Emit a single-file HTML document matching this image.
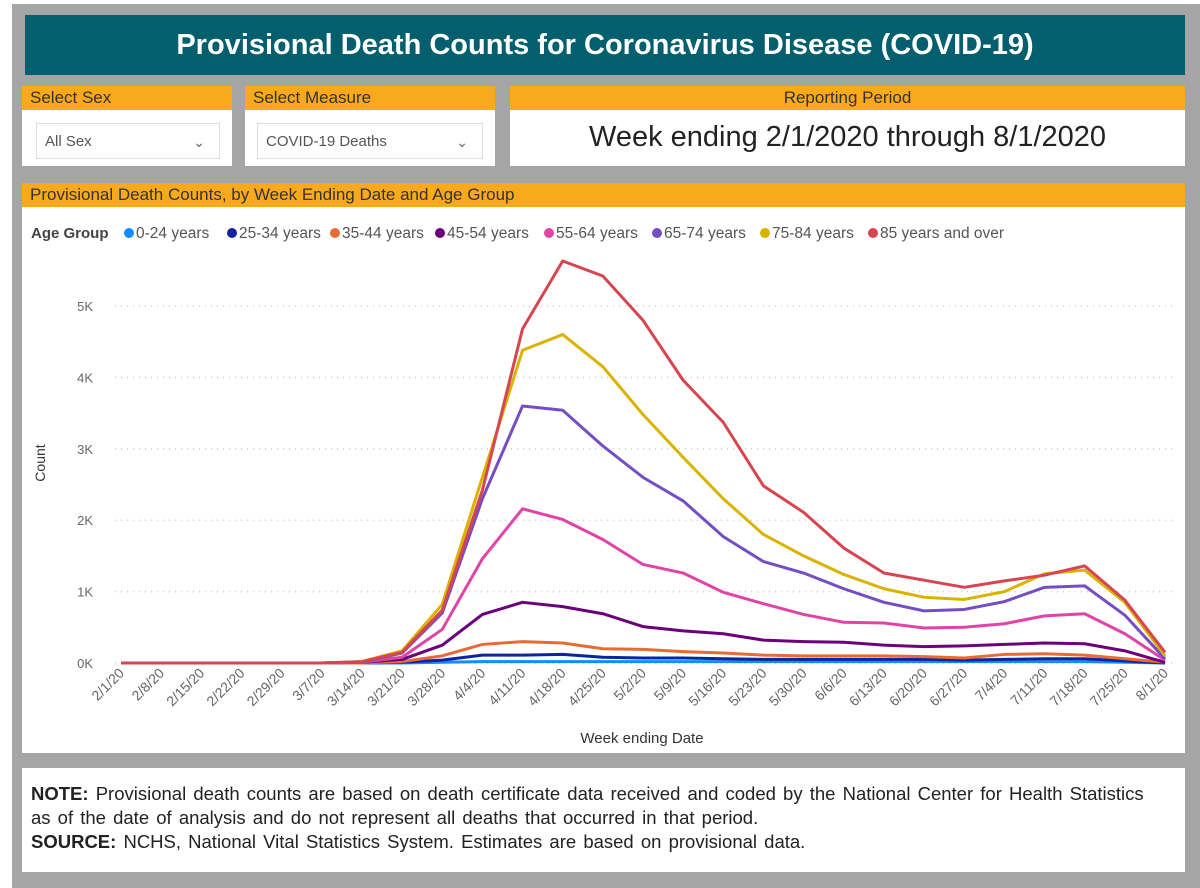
<!DOCTYPE html>
<html><head><meta charset="utf-8">
<style>
*{box-sizing:border-box;margin:0;padding:0}
body{width:1200px;height:888px;background:#fff;font-family:"Liberation Sans",sans-serif;position:relative;overflow:hidden}
.bg{position:absolute;left:12px;top:4px;width:1188px;height:884px;background:#a5a5a5}
.abs{position:absolute}
.hdr{left:25px;top:15px;width:1160px;height:60px;background:#035f6e;color:#fff;font-weight:bold;font-size:29px;text-align:center;line-height:60px}
.panel{background:#fff}
.ph{background:#f9a91c;height:24px;font-size:17px;color:#333;line-height:24px;padding-left:8px}
.dd{position:absolute;border:1px solid #ddd;font-size:15px;color:#555;line-height:36px;padding-left:8px}
.chev{position:absolute;right:14px;top:0;color:#666;font-size:14px}
</style></head><body>
<div class="bg"></div>
<div class="abs hdr">Provisional Death Counts for Coronavirus Disease (COVID-19)</div>

<div class="abs panel" style="left:22px;top:86px;width:210px;height:80px">
 <div class="ph">Select Sex</div>
 <div class="dd" style="left:14px;top:37px;width:184px;height:36px">All Sex<span class="chev">&#8964;</span></div>
</div>
<div class="abs panel" style="left:245px;top:86px;width:250px;height:80px">
 <div class="ph">Select Measure</div>
 <div class="dd" style="left:12px;top:37px;width:226px;height:36px">COVID-19 Deaths<span class="chev">&#8964;</span></div>
</div>
<div class="abs panel" style="left:510px;top:86px;width:675px;height:80px">
 <div class="ph" style="text-align:center;padding-left:0">Reporting Period</div>
 <div style="text-align:center;font-size:29px;color:#222;margin-top:11px">Week ending 2/1/2020 through 8/1/2020</div>
</div>

<div class="abs panel" style="left:22px;top:183px;width:1163px;height:570px">
 <div class="ph">Provisional Death Counts, by Week Ending Date and Age Group</div>
</div>
<svg class="abs" style="left:0;top:0" width="1200" height="888" id="chart"></svg>

<div class="abs panel" style="left:22px;top:768px;width:1163px;height:104px;padding:14px 0 0 9px;font-size:18.5px;word-spacing:2px;line-height:24px;color:#222;white-space:nowrap">
 <div><b>NOTE:</b> Provisional death counts are based on death certificate data received and coded by the National Center for Health Statistics<br>as of the date of analysis and do not represent all deaths that occurred in that period.</div>
 <div><b>SOURCE:</b> NCHS, National Vital Statistics System. Estimates are based on provisional data.</div>
</div>

<script>
const categories=["2/1/20","2/8/20","2/15/20","2/22/20","2/29/20","3/7/20","3/14/20","3/21/20","3/28/20","4/4/20","4/11/20","4/18/20","4/25/20","5/2/20","5/9/20","5/16/20","5/23/20","5/30/20","6/6/20","6/13/20","6/20/20","6/27/20","7/4/20","7/11/20","7/18/20","7/25/20","8/1/20"];
const seriesNames=["0-24 years","25-34 years","35-44 years","45-54 years","55-64 years","65-74 years","75-84 years","85 years and over"];
const seriesColors=["#118dff","#12239e","#e66c37","#6b007b","#e044a7","#744ec2","#d9b300","#d64550"];
const s0=[0,0,0,0,0,0,0,0,0.01,0.02,0.02,0.02,0.02,0.02,0.02,0.02,0.02,0.02,0.02,0.02,0.02,0.02,0.02,0.02,0.02,0.01,0];
const s1=[0,0,0,0,0,0,0,0.01,0.04,0.11,0.11,0.12,0.08,0.07,0.07,0.06,0.05,0.05,0.05,0.05,0.05,0.04,0.05,0.06,0.06,0.03,0];
const s2=[0,0,0,0,0,0,0,0.02,0.1,0.26,0.3,0.28,0.2,0.19,0.16,0.14,0.11,0.1,0.1,0.1,0.09,0.07,0.12,0.13,0.11,0.06,0.01];
const s3=[0,0,0,0,0,0,0.01,0.05,0.25,0.68,0.85,0.79,0.69,0.51,0.45,0.41,0.32,0.3,0.29,0.25,0.23,0.24,0.26,0.28,0.27,0.17,0.01];
const s4=[0,0,0,0,0,0,0.01,0.08,0.47,1.46,2.16,2.01,1.73,1.38,1.26,0.99,0.83,0.68,0.57,0.56,0.49,0.5,0.55,0.66,0.69,0.41,0.04];
const s5=[0,0,0,0,0,0,0.01,0.14,0.7,2.3,3.6,3.54,3.04,2.6,2.27,1.77,1.42,1.26,1.04,0.85,0.73,0.75,0.86,1.06,1.08,0.67,0.06];
const s6=[0,0,0,0,0,0,0.02,0.17,0.82,2.6,4.38,4.6,4.15,3.48,2.88,2.3,1.8,1.5,1.24,1.04,0.92,0.89,1.0,1.25,1.3,0.85,0.1];
const s7=[0,0,0,0,0,0,0.02,0.15,0.74,2.42,4.68,5.63,5.42,4.8,3.96,3.37,2.48,2.11,1.61,1.26,1.16,1.06,1.15,1.23,1.36,0.88,0.15];
const yTicks=[0,1,2,3,4,5];
const series=[s0,s1,s2,s3,s4,s5,s6,s7];
const NS="http://www.w3.org/2000/svg";
const svg=document.getElementById('chart');
const x0=121,x1=1165,yBase=663,pxPerK=71.4;
const xScale=i=>x0+i*(x1-x0)/(categories.length-1);
const yScale=v=>yBase-v*pxPerK;
function mk(t,a){const e=document.createElementNS(NS,t);for(const k in a)e.setAttribute(k,a[k]);svg.appendChild(e);return e;}
let t=mk('text',{x:31,y:238,'font-size':15,'font-weight':'bold',fill:'#444'});


t.textContent='Age Group';
const legX=[124,227,330,435,544,652,760,868];
seriesNames.forEach((n,i)=>{
 const lx=legX[i];
 const c=mk('circle',{cx:lx+5,cy:233,r:5,fill:seriesColors[i]});
 
 
 const tt=mk('text',{x:lx+12,y:238,'font-size':15.5,fill:'#555'});
 
 
 tt.textContent=n;
});
yTicks.forEach(v=>{
 const g=mk('line',{x1:115,x2:1175,y1:yScale(v),y2:yScale(v),stroke:'#ccc','stroke-dasharray':'1 5','stroke-width':1.5});
 
 
 const l=mk('text',{x:93,y:yScale(v)+5,'font-size':13,fill:'#666','text-anchor':'end'});
 
 
 l.textContent=v+'K';
});
categories.forEach((c,i)=>{
 const x=xScale(i)+4,y=674;
 const l=mk('text',{x:x,y:y,'font-size':14,fill:'#666','text-anchor':'end',transform:`rotate(-45 ${x} ${y})`});
 
 
 l.textContent=c;
});
t=mk('text',{x:45,y:463,'font-size':14,fill:'#333','text-anchor':'middle',transform:'rotate(-90 45 463)'});


t.textContent='Count';
t=mk('text',{x:642,y:743,'font-size':15,fill:'#333','text-anchor':'middle'});


t.textContent='Week ending Date';
series.forEach((s,i)=>{
 const p=mk('polyline',{points:s.map((v,j)=>xScale(j)+','+yScale(v)).join(' '),fill:'none',stroke:seriesColors[i],'stroke-width':3,'stroke-linejoin':'round'});
 
 
});
</script>
</body></html>
